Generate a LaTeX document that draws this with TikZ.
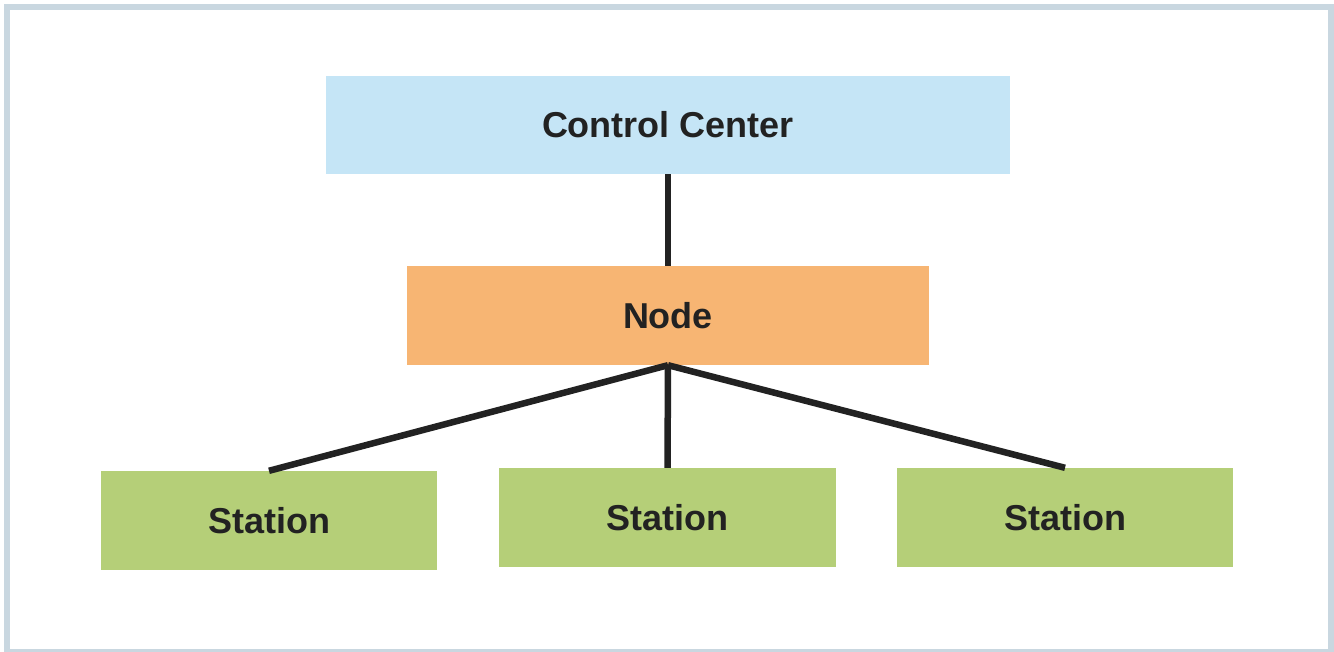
\documentclass[tikz,border=0pt]{standalone}
\usepackage{fontspec}
\setmainfont{Liberation Sans}
\definecolor{framecol}{HTML}{C9D7E0}
\definecolor{ccblue}{HTML}{C5E5F6}
\definecolor{nodeorange}{HTML}{F7B573}
\definecolor{stgreen}{HTML}{B5CF78}
\definecolor{txt}{HTML}{222222}
\definecolor{linecol}{HTML}{222222}
\tikzset{
  box/.style={rectangle, inner sep=0pt, text=txt, font=\fontsize{36}{40}\selectfont\bfseries},
  conn/.style={draw=linecol, line width=6.5pt},
}
\begin{document}
\begin{tikzpicture}[x=1pt,y=-1pt]
\useasboundingbox (0,0) rectangle (1334,651);
\fill[white] (0,0) rectangle (1334,651);
\draw[framecol, line width=6pt] (7,7) rectangle (1330.5,652);
\node[box, fill=ccblue, minimum width=684pt, minimum height=98pt] (cc) at (668,125) {Control Center};
\node[box, fill=nodeorange, minimum width=522pt, minimum height=99pt] (nd) at (668,315.5) {Node};
\node[box, fill=stgreen, minimum width=336pt, minimum height=99pt] (s1) at (269,520.5) {Station};
\node[box, fill=stgreen, minimum width=337pt, minimum height=99pt] (s2) at (667.5,517.5) {Station};
\node[box, fill=stgreen, minimum width=336pt, minimum height=99pt] (s3) at (1065,517.5) {Station};
\draw[conn] (cc.south) -- (nd.north);
\draw[conn] (nd.south) -- (s1.north);
\draw[conn] (nd.south) -- (s2.north);
\draw[conn] (nd.south) -- (s3.north);
\end{tikzpicture}
\end{document}
